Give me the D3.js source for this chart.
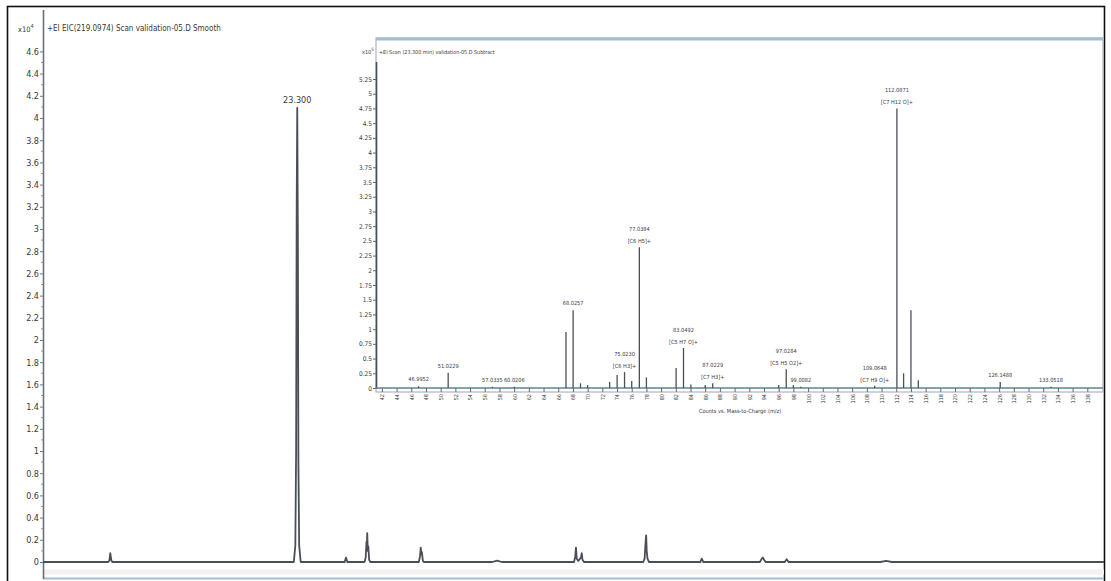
<!DOCTYPE html>
<html>
<head>
<meta charset="utf-8">
<script src="https://cdn.jsdelivr.net/npm/d3@7"></script>
<style>
  body { margin: 0; background: #fff; }
  svg { display: block; }
  text { font-family: "Liberation Sans Narrow", "Arial Narrow", "DejaVu Sans Condensed", "Liberation Sans", sans-serif; fill: #3a3a3a; }
</style>
</head>
<body>
<svg id="chart" width="1111" height="581"></svg>
<script>
// ---- Extracted-ion chromatogram: retention time (min) vs counts (x10^4)
const ticTime = [10, 13.40, 13.47, 13.52, 13.57, 13.62,
  23.12, 23.20, 23.24, 23.27, 23.30, 23.33, 23.36, 23.40, 23.48,
  25.78, 25.85, 25.92,
  26.82, 26.88, 26.92, 26.94, 26.96, 26.99, 27.02, 27.06, 27.12,
  29.66, 29.72, 29.76, 29.79, 29.82, 29.87, 29.93,
  33.50, 33.75, 34.00,
  37.78, 37.84, 37.88, 37.92, 38.00, 38.14, 38.18, 38.22, 38.30,
  41.40, 41.47, 41.50, 41.53, 41.55, 41.58, 41.62, 41.70,
  44.38, 44.46, 44.54,
  47.50, 47.60, 47.65, 47.72, 47.80,
  48.80, 48.90, 49.00,
  53.80, 54.10, 54.40,
  65.5];
const ticCounts = [0, 0, 0.01, 0.08, 0.02, 0,
  0, 0.15, 1.0, 3.2, 4.09, 3.0, 0.9, 0.15, 0,
  0, 0.04, 0,
  0, 0.04, 0.18, 0.12, 0.26, 0.10, 0.14, 0.02, 0,
  0, 0.05, 0.13, 0.07, 0.09, 0.01, 0,
  0, 0.012, 0,
  0, 0.05, 0.13, 0.03, 0.01, 0.04, 0.08, 0.02, 0,
  0, 0.03, 0.12, 0.20, 0.24, 0.10, 0.03, 0,
  0, 0.03, 0,
  0, 0.03, 0.04, 0.02, 0,
  0, 0.025, 0,
  0, 0.01, 0,
  0];
const ticYTicks = [0, 0.2, 0.4, 0.6, 0.8, 1, 1.2, 1.4, 1.6, 1.8, 2, 2.2, 2.4, 2.6, 2.8, 3, 3.2, 3.4, 3.6, 3.8, 4, 4.2, 4.4, 4.6];
const ticApexTime = [23.300];
const ticApexCounts = [4.09];
const ticTitle = "+EI EIC(219.0974) Scan validation-05.D Smooth";

// ---- Mass spectrum at the apex: m/z vs counts (x10^5)
const specMz = [46.9952, 51.0229, 57.0335, 60.0206, 67.0542, 68.0257, 69.03, 70.0, 73.0,
  74.0157, 75.0230, 76.0, 77.0384, 78.0, 82.0413, 83.0492, 84.05, 86.0, 87.0229,
  96.0, 97.0284, 98.0, 99.0082, 109.0648, 112.0871, 113.0, 114.0, 115.0, 126.1488, 133.0518];
const specCounts = [0.03, 0.26, 0.02, 0.02, 0.95, 1.32, 0.08, 0.05, 0.10,
  0.22, 0.27, 0.12, 2.39, 0.18, 0.34, 0.68, 0.06, 0.05, 0.08,
  0.05, 0.32, 0.05, 0.02, 0.04, 4.75, 0.25, 1.32, 0.13, 0.10, 0.02];
const labelMz = [46.9952, 51.0229, 57.0335, 60.0206, 68.0257, 75.0230, 77.0384, 83.0492,
  87.0229, 97.0284, 99.0082, 109.0648, 112.0871, 126.1488, 133.0518];
const labelFormula = ["", "", "", "", "", "[C6 H3]+", "[C6 H5]+", "[C5 H7 O]+",
  "[C7 H3]+", "[C5 H5 O2]+", "", "[C7 H9 O]+", "[C7 H12 O]+", "", ""];
const specXTicks = [42, 44, 46, 48, 50, 52, 54, 56, 58, 60, 62, 64, 66, 68, 70, 72, 74, 76, 78, 80,
  82, 84, 86, 88, 90, 92, 94, 96, 98, 100, 102, 104, 106, 108, 110, 112, 114, 116, 118, 120,
  122, 124, 126, 128, 130, 132, 134, 136, 138];
const specYTicks = [0, 0.25, 0.5, 0.75, 1, 1.25, 1.5, 1.75, 2, 2.25, 2.5, 2.75, 3, 3.25, 3.5, 3.75,
  4, 4.25, 4.5, 4.75, 5, 5.25];
const specTitle = "+EI Scan (23.300 min) validation-05.D Subtract";
const specXTitle = "Counts vs. Mass-to-Charge (m/z)";

const svg = d3.select("#chart");

// outer frame
svg.append("rect").attr("x", 7.5).attr("y", 6.5).attr("width", 1097).attr("height", 600)
  .attr("fill", "none").attr("stroke", "#111").attr("stroke-width", 1.6);

// ================= chromatogram =================
const x = d3.scaleLinear().domain([10, 65.5]).range([43, 1104]);
const y = d3.scaleLinear().domain([0, 4.6]).range([562, 51.4]);

// plot bottom frame line
svg.append("line").attr("x1", 43).attr("x2", 1104).attr("y1", 572).attr("y2", 572)
  .attr("stroke", "#f5f0f2").attr("stroke-width", 5);
svg.append("line").attr("x1", 43).attr("x2", 1104).attr("y1", 578.5).attr("y2", 578.5)
  .attr("stroke", "#9cc0dc").attr("stroke-width", 2.2);

// y axis
svg.append("line").attr("x1", 43.5).attr("x2", 43.5).attr("y1", 10).attr("y2", 579)
  .attr("stroke", "#6b7078").attr("stroke-width", 1.6);
const yAxis = svg.append("g").attr("transform", "translate(43,0)")
  .call(d3.axisLeft(y).tickValues(ticYTicks).tickSize(3).tickSizeOuter(0).tickPadding(1)
    .tickFormat(d => String(d)));
yAxis.select(".domain").remove();
yAxis.selectAll("line").attr("stroke", "#777");
yAxis.selectAll("text").attr("font-size", 9).style("font-family", null).attr("fill", "#555");
// minor ticks
svg.append("g").selectAll("line")
  .data(ticYTicks.slice(0, -1)).join("line")
  .attr("x1", 41).attr("x2", 43)
  .attr("y1", d => y(d + 0.1)).attr("y2", d => y(d + 0.1))
  .attr("stroke", "#999");

svg.append("text").attr("x", 18).attr("y", 32).attr("font-size", 7.5).attr("fill", "#555")
  .text("x10").append("tspan").attr("dy", -4).attr("font-size", 5.5).text("4");
svg.append("text").attr("x", 47).attr("y", 31).attr("font-size", 8).attr("fill", "#333").text(ticTitle);

// trace
const ticPts = ticTime.map((t, i) => [t, ticCounts[i]]);
svg.append("path").datum(ticPts)
  .attr("d", d3.line().x(d => x(d[0])).y(d => y(d[1])))
  .attr("fill", "none").attr("stroke", "#4a4e56").attr("stroke-width", 1.8)
  .attr("stroke-linejoin", "round");

// apex label
svg.selectAll(".apex").data(ticApexTime).join("text")
  .attr("class", "apex")
  .attr("x", d => x(d)).attr("y", (d, i) => y(ticApexCounts[i]) - 5)
  .attr("text-anchor", "middle").attr("font-size", 9).attr("fill", "#333")
  .text(d => d.toFixed(3));

// ================= spectrum inset =================
const ix = d3.scaleLinear().domain([41.2, 140]).range([376, 1102]);
const iy = d3.scaleLinear().domain([0, 5.25]).range([388, 79]);

const inset = svg.append("g");
inset.append("rect").attr("x", 376).attr("y", 38).attr("width", 727).attr("height", 354)
  .attr("fill", "#fff").attr("stroke", "#9aa6b0").attr("stroke-width", 1);
inset.append("line").attr("x1", 376).attr("x2", 1104).attr("y1", 39).attr("y2", 39)
  .attr("stroke", "#9fc0da").attr("stroke-width", 3);

// inset y axis
inset.append("line").attr("x1", 376.5).attr("x2", 376.5).attr("y1", 62).attr("y2", 389)
  .attr("stroke", "#4a4f57").attr("stroke-width", 1.6);
const iyAxis = inset.append("g").attr("transform", "translate(376,0)")
  .call(d3.axisLeft(iy).tickValues(specYTicks).tickSize(3).tickSizeOuter(0).tickPadding(1)
    .tickFormat(d => String(d)));
iyAxis.select(".domain").remove();
iyAxis.selectAll("line").attr("stroke", "#666");
iyAxis.selectAll("text").attr("font-size", 6.5).style("font-family", null).attr("fill", "#555");

// inset x axis
inset.append("line").attr("x1", 376).attr("x2", 1103).attr("y1", 388).attr("y2", 388)
  .attr("stroke", "#5f8390").attr("stroke-width", 1.6);
const ixAxis = inset.append("g").attr("transform", "translate(0,388)")
  .call(d3.axisBottom(ix).tickValues(specXTicks).tickSize(4).tickSizeOuter(0));
ixAxis.select(".domain").remove();
ixAxis.selectAll("line").attr("stroke", "#666");
ixAxis.selectAll("text")
  .attr("transform", "rotate(-90)").attr("x", -6).attr("y", 0).attr("dy", "0.35em")
  .attr("text-anchor", "end").attr("font-size", 5.5).style("font-family", null).attr("fill", "#666");

inset.append("text").attr("x", 740).attr("y", 413).attr("text-anchor", "middle")
  .attr("font-size", 5.6).attr("fill", "#555").text(specXTitle);
inset.append("text").attr("x", 362).attr("y", 54).attr("font-size", 5.5).attr("fill", "#555")
  .text("x10").append("tspan").attr("dy", -3).attr("font-size", 4.5).text("5");
inset.append("text").attr("x", 379).attr("y", 54).attr("font-size", 5.4).attr("fill", "#444").text(specTitle);

// sticks
inset.append("g").selectAll("line").data(specMz).join("line")
  .attr("x1", d => ix(d)).attr("x2", d => ix(d))
  .attr("y1", iy(0)).attr("y2", (d, i) => iy(specCounts[i]))
  .attr("stroke", "#4b4f55").attr("stroke-width", 1.3);

// peak labels
const countAt = mz => specCounts[specMz.indexOf(mz)];
const lab = inset.append("g").selectAll("g").data(labelMz).join("g")
  .attr("transform", d => `translate(${ix(d)},${iy(countAt(d))})`);
lab.append("text")
  .attr("text-anchor", "middle").attr("font-size", 5.6).attr("fill", "#444")
  .attr("y", (d, i) => labelFormula[i] ? -16 : -5)
  .text(d => d.toFixed(4));
lab.filter((d, i) => labelFormula[i]).append("text")
  .attr("text-anchor", "middle").attr("font-size", 5.6).attr("fill", "#444")
  .attr("y", -4)
  .text(d => labelFormula[labelMz.indexOf(d)]);
</script>
</body>
</html>
